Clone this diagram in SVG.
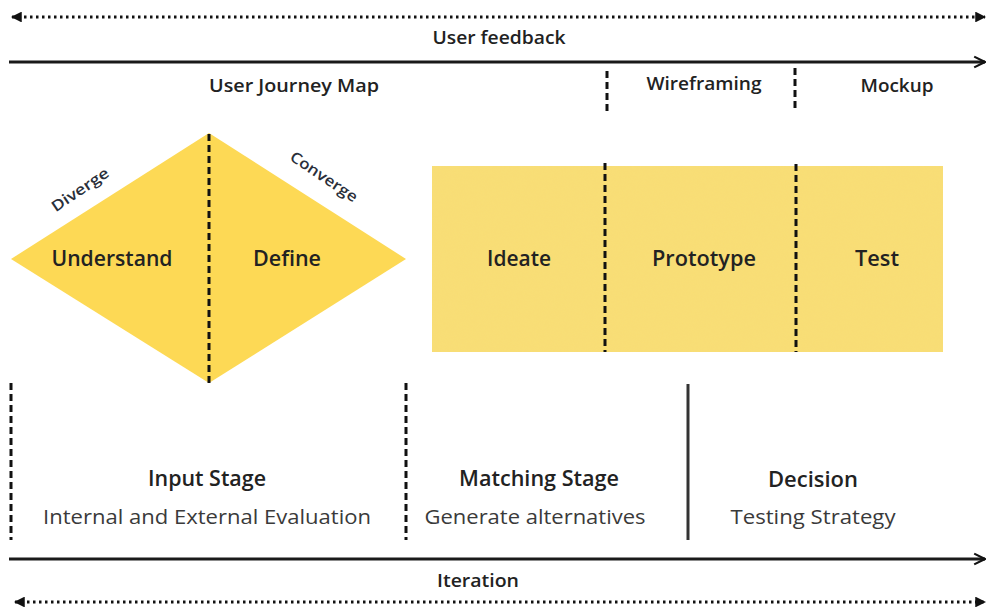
<svg xmlns="http://www.w3.org/2000/svg" width="989" height="611" viewBox="0 0 989 611">
  <defs>
    <marker id="dotHead" viewBox="0 0 10 10" refX="9" refY="5" markerWidth="3.6" markerHeight="3.6" orient="auto-start-reverse" markerUnits="strokeWidth">
      <path d="M0,0 L10,5 L0,10 z" fill="#111"/>
    </marker>
    <marker id="chevron" viewBox="0 0 10 10" refX="9" refY="5" markerWidth="4.5" markerHeight="4.5" orient="auto" markerUnits="strokeWidth">
      <path d="M1,1 L9,5 L1,9" fill="none" stroke="#111" stroke-width="1.6"/>
    </marker>
    <filter id="grain" x="0" y="0" width="100%" height="100%">
      <feTurbulence type="fractalNoise" baseFrequency="0.9" numOctaves="2" seed="3" result="n"/>
      <feColorMatrix in="n" type="matrix" values="0 0 0 0 0.85  0 0 0 0 0.72  0 0 0 0 0.25  0 0 0 0.12 0" result="tint"/>
      <feComposite in="tint" in2="SourceGraphic" operator="in" result="t2"/>
      <feMerge><feMergeNode in="SourceGraphic"/><feMergeNode in="t2"/></feMerge>
    </filter>
    <style>
      text { font-family: "Open Sans", "Noto Sans", "Liberation Sans", sans-serif; fill: #222; }
      .hdr { font-size: 18px; font-weight: 600; text-anchor: middle; }
      .big { font-size: 21px; font-weight: 600; text-anchor: middle; }
      .sub { font-size: 20px; font-weight: 400; text-anchor: middle; fill: #3a3a3a; }
      .tilt { font-size: 15px; font-weight: 600; text-anchor: middle; fill: #2a2f3a; }
      .dotted { stroke: #111; stroke-width: 3; stroke-dasharray: 2.5 3.5; fill: none; }
      .solid { stroke: #1a1a1a; stroke-width: 3; fill: none; }
      .dash { stroke: #111; stroke-width: 3; stroke-dasharray: 7 4; fill: none; }
      .rule { stroke: #333; stroke-width: 3; fill: none; }
    </style>
  </defs>

  <rect width="989" height="611" fill="#ffffff"/>

  <!-- timeline connectors and dividers -->
  <g id="connectors">
    <line class="dotted" x1="12" y1="17" x2="985" y2="17" marker-start="url(#dotHead)" marker-end="url(#dotHead)"/>
    <line class="solid" x1="9" y1="62" x2="985" y2="62" marker-end="url(#chevron)"/>
    <line class="dash" x1="607" y1="71" x2="607" y2="112"/>
    <line class="dash" x1="795" y1="68" x2="795" y2="110"/>
    <line class="dash" x1="11" y1="383" x2="11" y2="540"/>
    <line class="dash" x1="406" y1="383" x2="406" y2="540"/>
    <line class="rule" x1="688" y1="384" x2="688" y2="540"/>
    <line class="solid" x1="9" y1="559" x2="985" y2="559" marker-end="url(#chevron)"/>
    <line class="dotted" x1="15" y1="602" x2="985" y2="602" marker-start="url(#dotHead)" marker-end="url(#dotHead)"/>
  </g>

  <g id="label-feedback"><text class="hdr" x="499" y="44" textLength="133" lengthAdjust="spacingAndGlyphs">User feedback</text></g>
  <g id="label-journey"><text class="hdr" x="294" y="92" textLength="170" lengthAdjust="spacingAndGlyphs">User Journey Map</text></g>
  <g id="label-wireframing"><text class="hdr" x="704" y="90" textLength="115" lengthAdjust="spacingAndGlyphs">Wireframing</text></g>
  <g id="label-mockup"><text class="hdr" x="897" y="92" textLength="73" lengthAdjust="spacingAndGlyphs">Mockup</text></g>

  <!-- double-diamond half: diverge / converge -->
  <g id="diamond">
    <polygon points="11,259 209,133 406,259 209,383" fill="#fdd955"/>
    <line class="dash" x1="209" y1="134" x2="209" y2="383"/>
    <text class="tilt" transform="translate(83,194) rotate(-34)" textLength="66" lengthAdjust="spacingAndGlyphs">Diverge</text>
    <text class="tilt" transform="translate(321,181) rotate(34)" textLength="78" lengthAdjust="spacingAndGlyphs">Converge</text>
  </g>
  <g id="node-understand"><text class="big" x="112" y="266" textLength="121" lengthAdjust="spacingAndGlyphs">Understand</text></g>
  <g id="node-define"><text class="big" x="287" y="266" textLength="68" lengthAdjust="spacingAndGlyphs">Define</text></g>

  <!-- ideate / prototype / test band -->
  <g id="band">
    <rect x="432" y="166" width="511" height="186" fill="#f9de74" filter="url(#grain)"/>
    <line class="dash" x1="605" y1="163" x2="605" y2="352"/>
    <line class="dash" x1="796" y1="164" x2="796" y2="352"/>
  </g>
  <g id="node-ideate"><text class="big" x="519" y="266" textLength="64" lengthAdjust="spacingAndGlyphs">Ideate</text></g>
  <g id="node-prototype"><text class="big" x="704" y="266" textLength="104" lengthAdjust="spacingAndGlyphs">Prototype</text></g>
  <g id="node-test"><text class="big" x="877" y="266" textLength="44" lengthAdjust="spacingAndGlyphs">Test</text></g>

  <g id="stage-input">
    <text class="big" x="207" y="486" textLength="118" lengthAdjust="spacingAndGlyphs">Input Stage</text>
    <text class="sub" x="207" y="524" textLength="328" lengthAdjust="spacingAndGlyphs">Internal and External Evaluation</text>
  </g>
  <g id="stage-matching">
    <text class="big" x="539" y="486" textLength="160" lengthAdjust="spacingAndGlyphs">Matching Stage</text>
    <text class="sub" x="535" y="524" textLength="221" lengthAdjust="spacingAndGlyphs">Generate alternatives</text>
  </g>
  <g id="stage-decision">
    <text class="big" x="813" y="487" textLength="90" lengthAdjust="spacingAndGlyphs">Decision</text>
    <text class="sub" x="813" y="524" textLength="165" lengthAdjust="spacingAndGlyphs">Testing Strategy</text>
  </g>

  <g id="label-iteration"><text class="hdr" x="478" y="587" textLength="82" lengthAdjust="spacingAndGlyphs">Iteration</text></g>
</svg>
